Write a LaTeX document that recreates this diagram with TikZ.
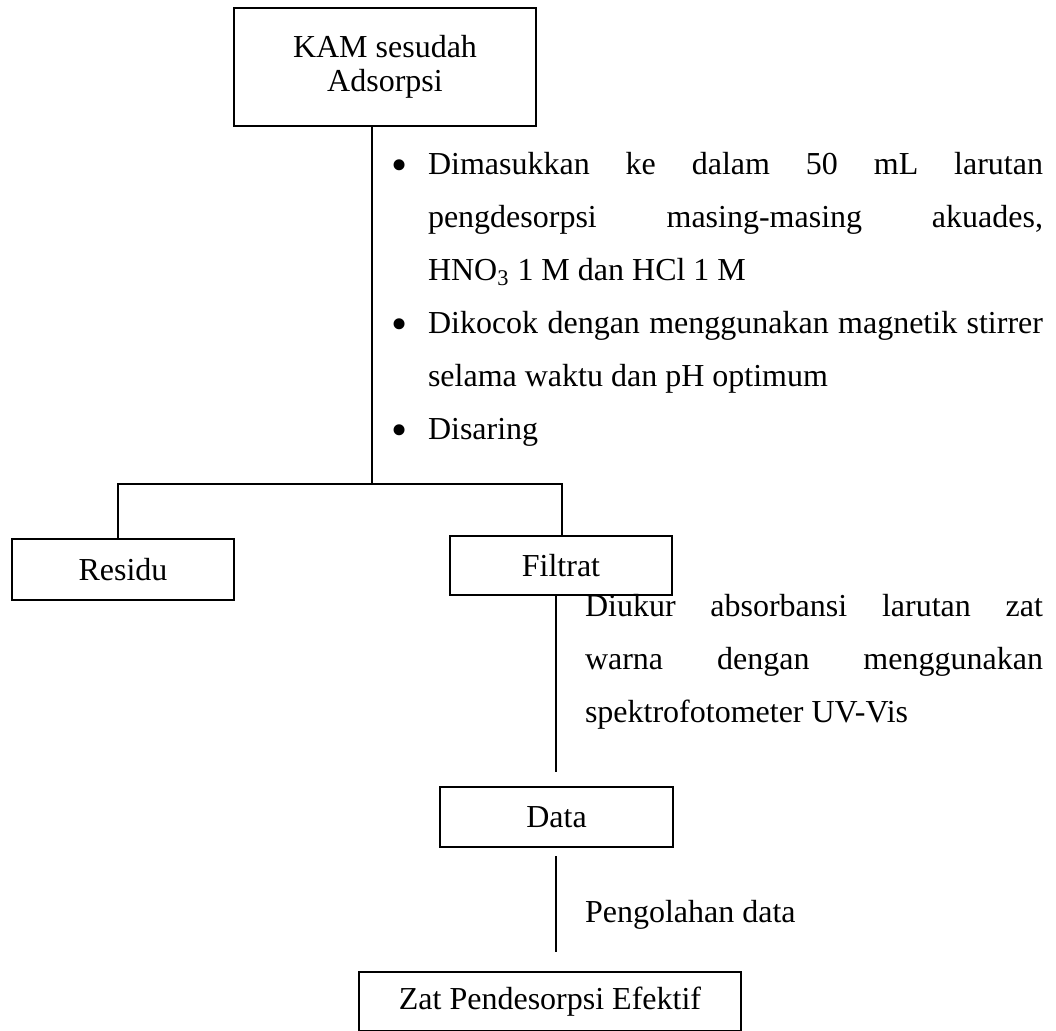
\documentclass[tikz,border=0pt]{standalone}
\usepackage{fontspec}
\setmainfont{Liberation Serif}
\begin{document}
\begin{tikzpicture}[x=0.5pt,y=-0.5pt,
  every node/.style={font=\fontsize{16pt}{17pt}\selectfont, inner sep=0pt, outer sep=0pt},
  box/.style={draw, line width=1pt, align=center},
  conn/.style={line width=1pt},
  txt/.style={anchor=base west},
  bul/.style={anchor=base, font=\fontsize{23pt}{23pt}\selectfont}]
\useasboundingbox (0,0) rectangle (1056,1030);
% boxes
\node[box, minimum width=151pt, minimum height=59pt] (top) at (385,67) {KAM sesudah\\Adsorpsi};
\node[box, minimum width=111pt, minimum height=30.5pt] (res) at (123,569.5) {Residu};
\node[box, minimum width=111pt, minimum height=29.5pt] (fil) at (561,565.5) {Filtrat};
\node[box, minimum width=116.5pt, minimum height=30pt] (dat) at (556.5,817) {Data};
\node[box, minimum width=191pt, minimum height=29.5pt] (fin) at (550,1001.5) {Zat Pendesorpsi Efektif};
% connector points
\coordinate (j) at (372,484);
\coordinate (hl) at (118,484);
\coordinate (hr) at (562,484);
\coordinate (d1) at (556,772);
\coordinate (d2a) at (556,856);
\coordinate (d2b) at (556,952);
% connectors
\draw[conn] (top.south -| j) -- (j);
\draw[conn] (hl |- res.north) -- (hl) -- (hr) -- (hr |- fil.north);
\draw[conn] (d1 |- fil.south) -- (d1);
\draw[conn] (d2a) -- (d2b);
% bullet text
\node[bul] (b1) at (400,180) {\textbullet};
\node[bul] (b2) at (400,339) {\textbullet};
\node[bul] (b3) at (400,445) {\textbullet};
\node[txt] (l1) at (428,174) {\makebox[307.5pt][s]{Dimasukkan ke dalam 50 mL larutan}};
\node[txt] (l2) at (428,227) {\makebox[307.5pt][s]{pengdesorpsi masing-masing akuades,}};
\node[txt] (l3) at (428,280) {HNO\textsubscript{3} 1 M dan HCl 1 M};
\node[txt] (l4) at (428,333) {\makebox[307.5pt][s]{Dikocok dengan menggunakan magnetik stirrer}};
\node[txt] (l5) at (428,386) {selama waktu dan pH optimum};
\node[txt] (l6) at (428,439) {Disaring};
% Diukur text
\node[txt] (m1) at (585,616) {\makebox[229pt][s]{Diukur absorbansi larutan zat}};
\node[txt] (m2) at (585,669) {\makebox[229pt][s]{warna dengan menggunakan}};
\node[txt] (m3) at (585,722) {spektrofotometer UV-Vis};
\node[txt] (p1) at (585,922) {Pengolahan data};
\end{tikzpicture}
\end{document}
